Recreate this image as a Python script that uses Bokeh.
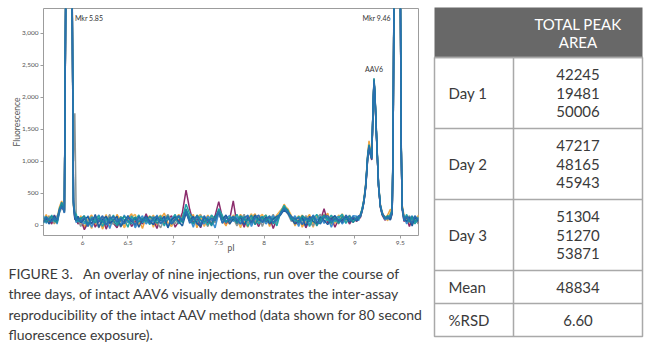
from bokeh.plotting import figure
from bokeh.models import FixedTicker, NumeralTickFormatter, CustomJSTickFormatter, Label
from bokeh.layouts import row, column
from bokeh.embed import file_html
from bokeh.resources import INLINE
from bokeh.core.properties import value

# ---------------- data ----------------
PI = [5.57, 5.60, 5.63, 5.66, 5.69, 5.72, 5.745, 5.77, 5.79, 5.80,
      5.815, 5.85, 5.885,
      5.90, 5.915, 5.93, 5.95,
      5.98, 6.02, 6.06, 6.10, 6.14, 6.18, 6.22, 6.26, 6.30, 6.34,
      6.38, 6.42, 6.46, 6.50, 6.54, 6.58, 6.62, 6.66, 6.70, 6.74,
      6.78, 6.82, 6.86, 6.90, 6.94, 6.98, 7.02, 7.06, 7.10, 7.14,
      7.18, 7.22, 7.26, 7.30, 7.34, 7.38, 7.42, 7.46, 7.50, 7.54,
      7.58, 7.62, 7.66, 7.70, 7.74, 7.78, 7.82, 7.86, 7.90, 7.94,
      7.98, 8.02, 8.06, 8.10, 8.14, 8.18, 8.22, 8.26, 8.30, 8.34,
      8.38, 8.42, 8.46, 8.50, 8.54, 8.58, 8.62, 8.66, 8.70, 8.74,
      8.78, 8.82, 8.86, 8.90, 8.94, 8.98,
      9.02, 9.04, 9.06, 9.08, 9.10, 9.12, 9.14, 9.155, 9.17, 9.185,
      9.20, 9.21, 9.22, 9.24, 9.26, 9.28, 9.30, 9.33, 9.36, 9.39,
      9.41, 9.42, 9.43, 9.465, 9.50, 9.51, 9.52,
      9.54, 9.57, 9.60, 9.63, 9.66, 9.70]

inj1 = [60, 170, 40, 130, 20, 110, 280, 380, 270, 230,
        3600, 8600, 3800,
        350, 120, 140, 30,
        150, -40, 90, 160, 10, 120, -60, 80, 140, 20,
        170, 60, -30, 110, 180, 30, 90, -50, 130, 70,
        160, 0, 100, 190, 40, -20, 120, 80, 150, 210,
        90, 170, -40, 110, 60, 160, 20, 130, 200, 80,
        -10, 150, 90, 40, 170, 60, -30, 120, 180, 50,
        100, 160, -20, 130, 70, 190, 330, 230, 110, 40,
        150, -30, 90, 170, 20, 130, 60, 110, 190, 10,
        140, 70, 180, 60, 130, 90,
        120, 90, 180, 260, 420, 680, 1100, 1320, 1180, 1080,
        1850, 2250, 2020, 1280, 640, 330, 210, 100, 160, 250,
        220, 1250, 3650, 8700, 3750, 1250, 320,
        160, 40, 140, 10, 110, 70]

inj2 = [110, 90, 150, 30, 140, 60, 230, 350, 300, 210,
        3750, 8400, 3650,
        300, 180, 60, 110,
        30, 130, 70, -50, 150, 90, 20, 170, -20, 110,
        60, 140, -40, 80, 130, 170, 10, 120, 70, 150,
        -30, 110, 160, 50, 140, -10, 90, 170, 60, 180,
        140, 40, 120, 170, -20, 100, 150, 60, 170, 130,
        70, 20, 160, 110, -40, 130, 90, 180, 30, 120,
        170, 40, 110, 80, 160, 230, 300, 260, 150, -10,
        90, 160, 40, 120, -30, 150, 100, 170, 50, 130,
        30, 160, 90, 150, 40, 120,
        80, 140, 130, 220, 360, 640, 1060, 1280, 1140, 1060,
        1820, 2230, 2060, 1330, 600, 290, 180, 140, 70, 190,
        260, 1150, 3750, 8500, 3650, 1180, 280,
        90, 150, 30, 120, 60, 160]

inj3 = [40, 120, 90, 20, 160, 50, 210, 300, 240, 200,
        3650, 8300, 3700,
        420, 90, 110, 20,
        90, -70, 40, 120, -30, 70, 140, -60, 80, 30,
        -40, 100, 40, 130, -20, 60, 110, 20, 180, 40,
        80, -50, 130, 20, 90, 150, -30, 60, 200, 550,
        250, 40, 100, -40, 120, 30, 80, 150, 370, 120,
        30, 90, 380, 20, 110, -30, 140, 60, 90, -20,
        120, 50, 130, -50, 100, 180, 240, 200, 90, 60,
        10, 110, -40, 90, 140, 30, 70, 260, 40, 120,
        -30, 90, 60, 140, 20, 110,
        60, 100, 120, 240, 400, 600, 1040, 1200, 1100, 1020,
        1880, 2260, 2000, 1310, 610, 280, 160, 80, 120, 90,
        180, 1200, 3700, 8600, 3700, 1200, 250,
        60, 110, -20, 90, 130, 30]

inj4 = [90, 60, 140, 100, 30, 150, 190, 280, 250, 240,
        3800, 8800, 3900,
        1000, 1750, 150, 90,
        -20, 110, 50, 140, 80, -40, 120, 60, 170, 10,
        120, -30, 90, 60, 150, -10, 130, 80, 40, 110,
        140, 50, -40, 100, 170, 70, 20, 150, 90, 200,
        60, 130, 10, 160, 80, -20, 120, 40, 180, 60,
        140, 60, 110, -10, 90, 170, 30, 120, 60, 150,
        -20, 120, 80, 170, 40, 210, 250, 180, 60, 130,
        110, 30, 150, 60, -10, 120, 170, 40, 90, 150,
        80, 20, 130, 40, 160, 50,
        100, 120, 160, 240, 390, 620, 1020, 1240, 1130, 1040,
        1900, 2290, 2080, 1350, 650, 320, 190, 120, 90, 140,
        230, 1300, 3800, 8800, 3800, 1300, 300,
        120, 70, 150, 40, 90, 20]

inj5 = [150, 30, 110, 80, 120, 20, 200, 320, 280, 190,
        3700, 8500, 3700,
        380, 160, 40, 130,
        70, 20, 150, -30, 90, 160, 40, 110, -50, 130,
        90, 10, 160, 40, 110, -40, 70, 150, 20, 90,
        50, 160, 20, 120, -30, 110, 160, 30, 100, 240,
        120, -30, 150, 70, 20, 140, 90, -40, 200, 40,
        110, 150, 60, 130, 20, 80, 160, -20, 110, 70,
        140, 20, 90, 150, 60, 170, 260, 210, 80, 150,
        -20, 130, 70, 10, 160, 80, 140, 30, 120, -30,
        110, 140, 20, 100, 70, 150,
        140, 70, 170, 250, 370, 660, 1080, 1250, 1150, 1070,
        1860, 2240, 2040, 1300, 630, 310, 200, 90, 130, 110,
        200, 1220, 3700, 8550, 3700, 1220, 260,
        140, 20, 100, 150, 30, 90]

inj6 = [30, 140, 70, 160, 60, 100, 260, 340, 260, 210,
        3700, 8700, 3750,
        330, 140, 180, 50,
        120, 60, -10, 130, 70, 150, -20, 100, 60, 160,
        20, 130, 90, -30, 140, 80, 160, 40, 100, 10,
        130, 70, 150, -10, 110, 60, 170, 20, 120, 330,
        180, 90, 50, 140, 110, 0, 160, 90, 260, 150,
        40, 130, 80, 170, 60, 140, -20, 100, 150, 20,
        110, 160, 50, 120, -10, 200, 310, 220, 130, 60,
        140, 70, 120, -20, 100, 170, 40, 140, 70, 160,
        60, 120, 170, 30, 110, 80,
        110, 130, 140, 270, 400, 630, 1070, 1210, 1120, 1050,
        1870, 2270, 2030, 1320, 620, 300, 170, 130, 100, 170,
        240, 1280, 3720, 8650, 3720, 1260, 290,
        80, 170, 60, 110, 20, 130]

inj7 = [70, 110, 20, 90, 150, 70, 240, 310, 250, 230,
        3650, 8500, 3650,
        310, 100, 70, 140,
        40, 100, 130, 20, 170, -30, 90, 140, 30, 80,
        140, -20, 60, 150, 50, 120, -30, 90, 140, 60,
        10, 120, 70, 140, -40, 90, 130, 60, -10, 190,
        70, 140, 30, -20, 130, 80, 20, 140, 190, 90,
        160, 20, 100, 60, 130, 10, 110, 40, 160, 90,
        60, 130, 20, 100, 140, 160, 240, 190, 100, 20,
        70, 120, -10, 140, 60, 20, 130, 80, 10, 100,
        150, 50, 90, 130, 50, 100,
        70, 110, 160, 230, 370, 610, 1050, 1220, 1110, 1030,
        1840, 2270, 2050, 1290, 610, 290, 170, 110, 140, 80,
        190, 1180, 3680, 8600, 3680, 1190, 270,
        110, 60, 130, -10, 120, 60]

inj8 = [120, 50, 100, 140, 80, 40, 220, 360, 290, 220,
        3750, 8650, 3800,
        360, 200, 90, 70,
        100, 150, 20, 90, 40, 110, 60, 10, 130, 70,
        -10, 90, 140, 70, 20, 130, 50, 110, 60, 140,
        90, 30, 100, 60, 150, 20, 80, 130, 40, 260,
        110, 20, 160, 80, 50, 110, -10, 120, 230, 100,
        60, 110, 130, 30, 150, 90, 70, 160, 10, 110,
        130, 60, 150, 20, 120, 190, 280, 240, 90, 110,
        40, 150, 100, 60, 130, -10, 90, 160, 110, 30,
        120, 30, 140, 90, 150, 40,
        130, 100, 150, 250, 410, 650, 1090, 1260, 1160, 1060,
        1880, 2300, 2060, 1340, 640, 310, 180, 100, 150, 120,
        210, 1240, 3760, 8700, 3760, 1240, 280,
        100, 130, 50, 140, 60, 110]

inj9 = [50, 130, 80, 60, 110, 90, 230, 290, 240, 200,
        3700, 8400, 3700,
        340, 130, 100, 90,
        60, 120, -20, 100, 130, 50, 150, 0, 100, 140,
        50, 110, 20, 130, 80, 0, 140, 60, 120, 30,
        110, 140, 30, 80, 130, 20, 100, 150, 70, 220,
        30, 100, 140, 10, 150, 60, 110, 70, 210, 30,
        120, 70, 140, 90, 20, 120, 150, 30, 120, 160,
        40, 100, 140, 50, 90, 180, 260, 200, 140, 90,
        120, 10, 110, 90, 150, 60, 20, 120, 150, 60,
        100, 90, 40, 160, 90, 130,
        90, 150, 130, 220, 380, 640, 1060, 1230, 1130, 1050,
        1860, 2260, 2040, 1310, 620, 300, 190, 120, 110, 130,
        220, 1210, 3700, 8600, 3700, 1210, 280,
        70, 140, 90, 30, 150, 80]

INJECTIONS = [inj1, inj2, inj3, inj4, inj5, inj6, inj7, inj8, inj9]
COLORS = ["#EFA23C", "#F2B04E", "#8B2C6C", "#8C9595", "#3A8FD0",
          "#22A3A8", "#1F5E9E", "#1C8C9C", "#2A6FB0"]

X_TICKS = [6, 6.5, 7, 7.5, 8, 8.5, 9, 9.5]
Y_TICKS = [0, 500, 1000, 1500, 2000, 2500, 3000]

MARKERS = [5.85, 9.46]
MARKER_LABELS = ["Mkr 5.85", "Mkr 9.46"]
PEAK_PI = 9.21
PEAK_LABEL = "AAV6"

DAYS = ["Day 1", "Day 2", "Day 3"]
DAY_AREAS = [[42245, 19481, 50006], [47217, 48165, 45943], [51304, 51270, 53871]]
MEAN_AREA = 48834
RSD = "6.60"
HEADER = ["TOTAL PEAK", "AREA"]

CAPTION = ["FIGURE 3.\u00a0\u00a0 An overlay of nine injections, run over the course of",
           "three days, of intact AAV6 visually demonstrates the inter-assay",
           "reproducibility of the intact AAV method (data shown for 80 second",
           "fluorescence exposure)."]

for i, tr in enumerate(INJECTIONS):
    assert len(tr) == len(PI), (i, len(tr), len(PI))

FONT = "Lato"
TXT = "#3a3a3a"
AXIS_TXT = "#555555"

# ---------------- chart ----------------
Y_TOP = 3390
p = figure(width=430, height=265, x_range=(5.57, 9.70), y_range=(-160, Y_TOP),
           output_backend="svg", toolbar_location=None, frame_align=False,
           min_border_left=43, min_border_right=12, min_border_top=8, min_border_bottom=30)
p.outline_line_color = "#9c9c9c"
p.outline_line_width = 1
p.grid.grid_line_color = None

for vals, c in zip(INJECTIONS, COLORS):
    p.line(PI, vals, line_color=c, line_width=1.5)

p.xaxis.ticker = FixedTicker(ticks=X_TICKS)
p.xaxis.formatter = CustomJSTickFormatter(code="return tick.toString()")
p.yaxis.ticker = FixedTicker(ticks=Y_TICKS)
p.yaxis.formatter = NumeralTickFormatter(format="0,0")
for ax in (p.xaxis[0], p.yaxis[0]):
    ax.axis_line_color = None
    ax.major_tick_line_color = "#9c9c9c"
    ax.major_tick_out = 3
    ax.major_tick_in = 0
    ax.minor_tick_line_color = None
    ax.major_label_text_font = FONT
    ax.major_label_text_font_size = "6.5px"
    ax.major_label_text_color = AXIS_TXT
    ax.major_label_standoff = 2
    ax.axis_label_text_font = FONT
    ax.axis_label_text_font_size = "8.5px"
    ax.axis_label_text_font_style = "normal"
    ax.axis_label_text_color = AXIS_TXT
p.yaxis.axis_label = "Fluorescence"
p.yaxis.axis_label_standoff = -3
p.xaxis.axis_label = "pI"
p.xaxis.axis_label_standoff = -5

for m, lab in zip(MARKERS, MARKER_LABELS):
    right = m > 9
    p.add_layout(Label(x=m, y=Y_TOP, y_offset=-5, text=lab,
                       x_offset=-6 if right else 6,
                       text_align="right" if right else "left", text_baseline="top",
                       text_font=FONT, text_font_size="7px", text_color="#333333"))
peak_top = max(v for t in INJECTIONS for x, v in zip(PI, t) if 9.1 < x < 9.3)
p.add_layout(Label(x=PEAK_PI, y=peak_top, y_offset=5,
                   text=PEAK_LABEL, text_align="center", text_baseline="bottom",
                   text_font=FONT, text_font_size="7px", text_color="#333333"))

# ---------------- caption ----------------
CAP_H = 347 - 265
cap = figure(width=430, height=CAP_H, x_range=(0, 430), y_range=(CAP_H, 0),
             output_backend="svg", toolbar_location=None, min_border=0, frame_align=False)
cap.axis.visible = False
cap.grid.grid_line_color = None
cap.outline_line_color = None
cap.text(x=[8] * len(CAPTION), y=[273 - 265 + 20.3 * i for i in range(len(CAPTION))], text=CAPTION,
         text_font=value(FONT), text_font_size="14px", text_color=TXT,
         text_baseline="middle", text_align="left")

# ---------------- table ----------------
tab = figure(width=220, height=347, x_range=(0, 220), y_range=(347, 0),
             output_backend="svg", toolbar_location=None, min_border=0, frame_align=False)
tab.axis.visible = False
tab.grid.grid_line_color = None
tab.outline_line_color = None

L, R, MID = 4, 212, 83
ROW_Y = [7, 57, 128, 199, 270, 303, 336]
BORDER = "#a9a9a9"
tab.quad(left=[L], right=[R], top=[ROW_Y[0]], bottom=[ROW_Y[1]], fill_color="#686868", line_color=None)
tab.quad(left=[L], right=[R], top=[ROW_Y[1]], bottom=[ROW_Y[-1]], fill_color="white",
         line_color=BORDER, line_width=1.5)
tab.segment(x0=[L] * 5, x1=[R] * 5, y0=ROW_Y[1:6], y1=ROW_Y[1:6], line_color=BORDER, line_width=1.5)
tab.segment(x0=[MID], x1=[MID], y0=[ROW_Y[1]], y1=[ROW_Y[-1]], line_color=BORDER, line_width=1.5)

cx = (MID + R) / 2
hdr_y = [(ROW_Y[0] + ROW_Y[1]) / 2 - 9, (ROW_Y[0] + ROW_Y[1]) / 2 + 9]
tab.text(x=[cx, cx], y=hdr_y, text=HEADER, text_font=value(FONT), text_font_size="15px",
         text_color="white", text_align="center", text_baseline="middle")

lab_txt, lab_x, lab_y = [], [], []
num_txt, num_x, num_y = [], [], []
for i, (d, vals) in enumerate(zip(DAYS, DAY_AREAS)):
    c = (ROW_Y[i + 1] + ROW_Y[i + 2]) / 2
    lab_txt.append(d); lab_x.append(L + 14); lab_y.append(c)
    for j, v in enumerate(vals):
        num_txt.append(str(v)); num_x.append(cx); num_y.append(c + (j - 1) * 18.5)
for k, (nm, v) in enumerate([("Mean", str(MEAN_AREA)), ("%RSD", RSD)]):
    c = (ROW_Y[4 + k] + ROW_Y[5 + k]) / 2
    lab_txt.append(nm); lab_x.append(L + 14); lab_y.append(c)
    num_txt.append(v); num_x.append(cx); num_y.append(c)

tab.text(x=lab_x, y=lab_y, text=lab_txt, text_font=value(FONT), text_font_size="15px",
         text_color=TXT, text_align="left", text_baseline="middle")
tab.text(x=num_x, y=num_y, text=num_txt, text_font=value(FONT), text_font_size="15px",
         text_color=TXT, text_align="center", text_baseline="middle")

layout = row(column(p, cap), tab)
open("out.html", "w").write(file_html(layout, INLINE))
